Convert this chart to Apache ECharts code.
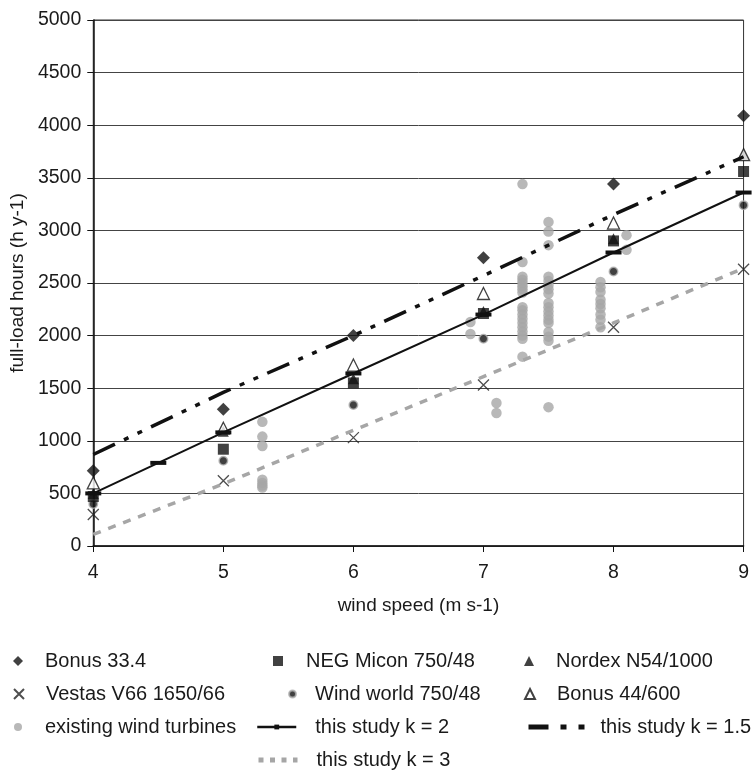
<!DOCTYPE html>
<html>
<head>
<meta charset="utf-8">
<script src="https://cdn.jsdelivr.net/npm/echarts@6/dist/echarts.min.js"></script>
<style>html,body{margin:0;padding:0;background:#fff;}#c{width:752px;height:773px;}</style>
</head>
<body>
<div id="c"></div>
<script>
// ---- data ----
const xTicks = [4, 5, 6, 7, 8, 9];
const yTicks = [0, 500, 1000, 1500, 2000, 2500, 3000, 3500, 4000, 4500, 5000];
const speeds = [4, 5, 6, 7, 8, 9];
const bonus334 = [715, 1300, 2000, 2740, 3440, 4090];
const negMicon = [470, 920, 1550, 2210, 2900, 3560];
const nordex = [500, 1090, 1590, 2230, 2920, 3720];
const vestas = [300, 620, 1030, 1530, 2080, 2630];
const windWorld = [400, 810, 1340, 1970, 2610, 3240];
const bonus44 = [600, 1120, 1720, 2400, 3070, 3720];
const existingX = [
  5.3, 5.3, 5.3, 5.3, 5.3, 5.3, 5.3,
  6.9, 6.9,
  7.1, 7.1,
  7.3, 7.3, 7.3, 7.3, 7.3, 7.3, 7.3, 7.3, 7.3, 7.3, 7.3, 7.3, 7.3, 7.3, 7.3, 7.3, 7.3, 7.3,
  7.5, 7.5, 7.5, 7.5, 7.5, 7.5, 7.5, 7.5, 7.5, 7.5, 7.5, 7.5, 7.5, 7.5, 7.5, 7.5, 7.5, 7.5,
  7.9, 7.9, 7.9, 7.9, 7.9, 7.9, 7.9, 7.9, 7.9,
  8.1, 8.1];
const existingY = [
  1180, 1040, 950, 630, 600, 575, 555,
  2130, 2015,
  1360, 1265,
  3440, 2700, 2560, 2530, 2500, 2470, 2440, 2410, 2240, 2200, 2160, 2120, 2080, 2040, 2000, 1970, 1800, 2270,
  3080, 2990, 2860, 2560, 2520, 2480, 2440, 2400, 2310, 2270, 2230, 2190, 2150, 2120, 2035, 1990, 1950, 1320,
  2510, 2460, 2415, 2340, 2300, 2260, 2200, 2150, 2080,
  2955, 2815];
const k2X = [4, 4.5, 5, 6, 7, 8, 9];
const k2Y = [500, 790, 1080, 1640, 2200, 2790, 3360];
const k15X = [4, 5, 6, 7, 8, 9];
const k15Y = [870, 1460, 2000, 2570, 3150, 3700];
const k3X = [4, 5, 6, 7, 8, 9];
const k3Y = [110, 590, 1100, 1610, 2120, 2640];

const pairs = (xs, ys) => xs.map((x, i) => [x, ys[i]]);
const FONT = '"Liberation Sans", Arial, Helvetica, sans-serif';
const TXT = '#1a1a1a';
const GRAY = '#a6a6a6';

const series = [
  {name: 'existing wind turbines', type: 'scatter', data: pairs(existingX, existingY),
   symbol: 'circle', symbolSize: 10.5, itemStyle: {color: GRAY}},
  {name: 'this study k = 3', type: 'line', data: pairs(k3X, k3Y), symbol: 'none',
   lineStyle: {color: GRAY, width: 3.5, type: [8, 8]}, itemStyle: {color: 'rgba(0,0,0,0)'}},
  {name: 'this study k = 2', type: 'line', data: pairs(k2X, k2Y),
   symbol: 'path://M0,0H16V4H0Z', symbolSize: [16, 4],
   showSymbol: true, lineStyle: {color: '#111', width: 2}, itemStyle: {color: '#111'}},
  {name: 'this study k = 1.5', type: 'line', data: pairs(k15X, k15Y), symbol: 'none',
   lineStyle: {color: '#111', width: 3.5, type: [24, 10, 5, 10, 5, 10]},
   itemStyle: {color: 'rgba(0,0,0,0)'}},
  {name: 'Nordex N54/1000', type: 'scatter', data: pairs(speeds, nordex), symbol: 'triangle',
   symbolSize: 11, itemStyle: {color: '#111'}},
  {name: 'Vestas V66 1650/66', type: 'scatter', data: pairs(speeds, vestas),
   symbol: 'path://M0,0L10,10M0,10L10,0', symbolSize: 11,
   itemStyle: {color: 'rgba(0,0,0,0)', borderColor: '#222', borderWidth: 1.3}},
  {name: 'Wind world 750/48', type: 'scatter', data: pairs(speeds, windWorld), symbol: 'circle',
   symbolSize: 8.5, itemStyle: {color: '#111', borderColor: '#b0b0b0', borderWidth: 1.5}},
  {name: 'NEG Micon 750/48', type: 'scatter', data: pairs(speeds, negMicon), symbol: 'rect',
   symbolSize: 11, itemStyle: {color: '#111'}},
  {name: 'Bonus 44/600', type: 'scatter', data: pairs(speeds, bonus44), symbol: 'triangle',
   symbolSize: 12, itemStyle: {color: '#fff', borderColor: '#111', borderWidth: 1.3}},
  {name: 'Bonus 33.4', type: 'scatter', data: pairs(speeds, bonus334), symbol: 'diamond',
   symbolSize: 13, itemStyle: {color: '#111'}}
];

// legend placement: [name, iconLeft, rowCenterY, iconW, iconH, textStartX, legendLineStyle]
const legendLayout = [
  ['Bonus 33.4', 13, 661, 10, 10, 45, null],
  ['NEG Micon 750/48', 273, 661, 10, 10, 306, null],
  ['Nordex N54/1000', 524, 661, 10, 10, 556, null],
  ['Vestas V66 1650/66', 13, 694, 10, 10, 45, null],
  ['Wind world 750/48', 288, 694, 7, 7, 314, null],
  ['Bonus 44/600', 524, 694, 10, 10, 556, null],
  ['existing wind turbines', 14, 727, 8, 8, 45, null],
  ['this study k = 2', 256, 727, 39, 6, 314, {width: 2.5}],
  ['this study k = 1.5', 526, 727, 62, 6, 598, {width: 5, type: [20, 12, 6, 12, 6, 20]}],
  ['this study k = 3', 256, 760, 39, 6, 314, {width: 5, type: [5, 6.5]}]
];
const legends = legendLayout.map(([name, left, cy, w, h, tx, ls]) => {
  const lg = {
    data: [name], left: left, top: cy - 11.5, itemWidth: w, itemHeight: h,
    padding: 0, itemGap: 0, selectedMode: false,
    textStyle: {fontFamily: FONT, fontSize: 20, color: TXT, lineHeight: 23,
      padding: [0, 0, 0, Math.max(0, tx - (left + w + 5))]}
  };
  if (ls) lg.lineStyle = ls;
  return lg;
});

const chart = echarts.init(document.getElementById('c'), null, {renderer: 'canvas'});
chart.setOption({
  animation: false,
  backgroundColor: '#fff',
  grid: {left: 93, right: 7, top: 20, bottom: 227, show: true, borderColor: '#333', borderWidth: 1},
  xAxis: {type: 'value', min: 4, max: 9, interval: 1,
    name: 'wind speed (m s-1)', nameLocation: 'middle', nameGap: 50,
    nameTextStyle: {fontFamily: FONT, fontSize: 19, color: TXT},
    axisLine: {show: true, onZero: false, lineStyle: {color: '#111', width: 1.5}},
    axisTick: {show: true, length: 6, lineStyle: {color: '#111'}},
    axisLabel: {fontFamily: FONT, fontSize: 19.5, color: TXT, margin: 17,
      formatter: v => xTicks.includes(v) ? String(v) : ''},
    splitLine: {show: false}},
  yAxis: {type: 'value', min: 0, max: 5000, interval: 500,
    name: 'full-load hours (h y-1)', nameLocation: 'middle', nameGap: 64, nameRotate: 90,
    nameTextStyle: {fontFamily: FONT, fontSize: 19, color: TXT},
    axisLine: {show: true, onZero: false, lineStyle: {color: '#111', width: 1.5}},
    axisTick: {show: true, length: 6, lineStyle: {color: '#111'}},
    axisLabel: {fontFamily: FONT, fontSize: 19.5, color: TXT, margin: 12,
      formatter: v => yTicks.includes(v) ? String(v) : ''},
    splitLine: {show: true, lineStyle: {color: '#444', width: 1}}},
  legend: legends,
  series: series
});
</script>
</body>
</html>
